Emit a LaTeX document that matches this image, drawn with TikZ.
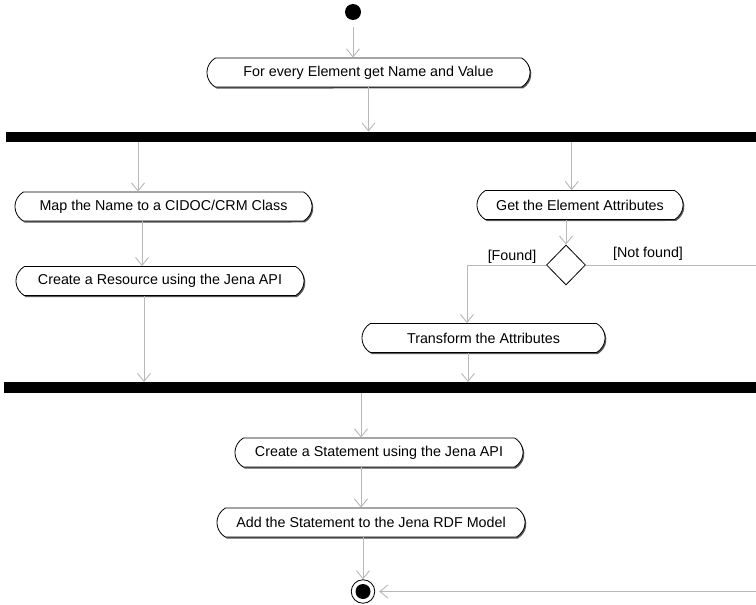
\documentclass[tikz,border=0pt]{standalone}
\usepackage{fontspec}
\setmainfont{Liberation Sans}
\usetikzlibrary{arrows.meta,shapes.geometric,shapes.misc,shadows,calc}
\begin{document}
\begin{tikzpicture}[x=1pt,y=-1pt,
  line/.style={draw=black!28, line width=0.9pt},
  flow/.style={line, -{Straight Barb[length=8pt,width=13pt,line width=0.9pt]}},
  action/.style={rounded rectangle, rounded rectangle arc length=120,
    draw=black, line width=0.8pt, fill=white, minimum height=29pt,
    inner sep=0pt, font=\fontsize{14.3}{17}\selectfont,
    drop shadow={shadow xshift=1.3pt, shadow yshift=-1.5pt, fill=black!65, opacity=1}},
  bar/.style={rectangle, fill=black, minimum height=10.5pt, inner sep=0pt},
  guard/.style={font=\fontsize{14.3}{17}\selectfont, inner sep=0pt},
]
\useasboundingbox (0,0) rectangle (756,605);
\fill[white] (0,0) rectangle (756,605);

% initial and final states
\node[circle, fill=black, minimum size=16pt, inner sep=0pt] (start) at (353,12) {};
\node[circle, draw, line width=0.8pt, fill=white, minimum size=23.5pt, inner sep=0pt] (final) at (363,591.5) {};
\fill (final.center) circle (7.5);

% actions
\node[action, minimum width=323pt] (act1) at (368.5,72.5) {For every Element get Name and Value};
\node[action, minimum width=297pt] (map)  at (163.5,206.5) {Map the Name to a CIDOC/CRM Class};
\node[action, minimum width=288pt] (res)  at (160,281) {Create a Resource using the Jena API};
\node[action, minimum width=206pt] (get)  at (580,205) {Get the Element Attributes};
\node[action, minimum width=243pt] (tr)   at (483.5,338) {Transform the Attributes};
\node[action, minimum width=288pt] (stm)  at (379,452.5) {Create a Statement using the Jena API};
\node[action, minimum width=308pt] (add)  at (371,522.5) {Add the Statement to the Jena RDF Model};

% fork / join bars
\node[bar, minimum width=750pt] (bar1) at (381,137) {};
\node[bar, minimum width=752pt] (bar2) at (380,387.5) {};

% decision
\node[diamond, draw, line width=0.8pt, fill=white, minimum width=39pt,
      minimum height=40pt, inner sep=0pt] (dec) at (566,265) {};
\node[guard] (lfound) at (512,257) {[Found]};
\node[guard] (lnot)   at (648,254) {[Not found]};

% tap points on the actions
\coordinate (mapIn) at ($(map.north)+(-25.5,0)$);
\coordinate (resIn) at ($(res.north)+(-18,0)$);
\coordinate (resOut) at ($(res.south)+(-16,0)$);
\coordinate (getIn) at ($(get.north)+(-8.3,0)$);
\coordinate (trIn) at ($(tr.north)+(-16.5,0)$);
\coordinate (trOut) at ($(tr.south)+(-15.5,0)$);
\coordinate (stmIn) at ($(stm.north)+(-18,0)$);
\coordinate (edgeTop) at (756,265);
\coordinate (edgeBot) at (756,591.5);

% control flow
\draw[flow, shorten <=7pt] (start) -- (start |- act1.north);
\draw[flow] (act1.south) -- (act1.south |- bar1.north);
\draw[flow] (mapIn |- bar1.south) -- (mapIn);
\draw[flow] (resIn |- map.south) -- (resIn);
\draw[flow] (resOut) -- (resOut |- bar2.north);
\draw[flow] (getIn |- bar1.south) -- (getIn);
\draw[flow] (dec.north |- get.south) -- (dec.north);
\draw[flow] (dec.west) -| (trIn);
\draw[line] (dec.east) -- (dec.east -| edgeTop);
\draw[flow] (trOut) -- (trOut |- bar2.north);
\draw[flow] (stmIn |- bar2.south) -- (stmIn);
\draw[flow] (stmIn |- stm.south) -- (stmIn |- add.north);
\draw[flow] (final |- add.south) -- (final);
\draw[flow, shorten >=4pt] (final -| edgeBot) -- (final);
\end{tikzpicture}
\end{document}
